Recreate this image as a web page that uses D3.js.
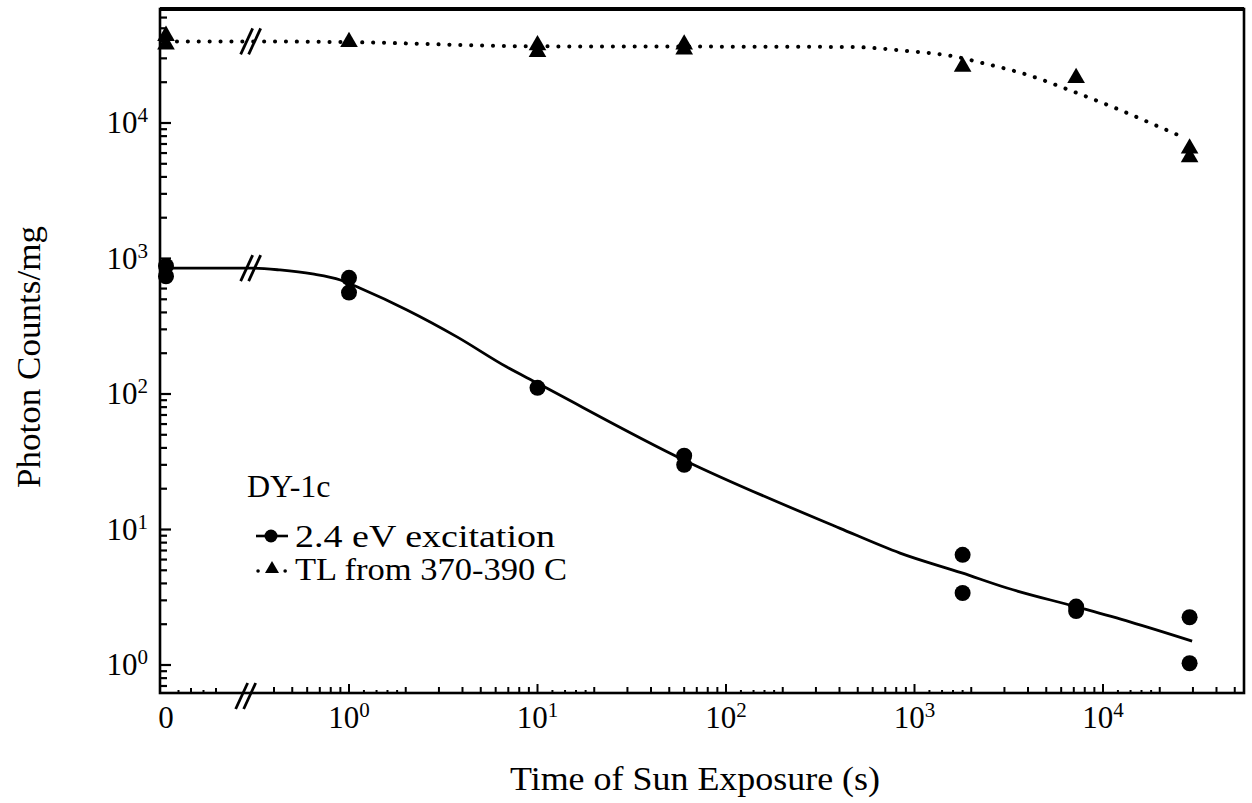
<!DOCTYPE html>
<html><head><meta charset="utf-8">
<script src="https://cdn.jsdelivr.net/npm/d3@7"></script>
<style>
body{margin:0;background:#fff;}
svg text{font-family:"Liberation Serif","Times New Roman",serif;fill:#000;}
</style></head><body>
<svg id="chart" width="1252" height="803"></svg>
<script>
// ---------------- data ----------------
// 2.4 eV excitation (measured points), time in s (0 = unexposed)
const excTime   = [0, 0, 1, 1, 10, 60, 60, 1800, 1800, 7200, 7200, 28800, 28800];
const excCounts = [880, 740, 720, 560, 111, 35, 30, 6.5, 3.4, 2.7, 2.5, 2.25, 1.03];
// TL from 370-390 C (measured points)
const tlTime   = [0, 0, 1, 10, 10, 60, 60, 1800, 7200, 28800, 28800];
const tlCounts = [44000, 38000, 39600, 37500, 33500, 38000, 35000, 26000, 21500, 6500, 5600];
// hand-drawn fit curves
const excCurveTime   = [0, 0.3, 0.43, 0.64, 0.9, 1.14, 2.03, 3.74, 6.88, 9.9, 60, 403, 838, 1786, 3097, 7280, 13900, 29700];
const excCurveCounts = [850, 850, 823, 769, 694, 605, 417, 264, 158, 121, 32.5, 10.2, 6.7, 4.78, 3.7, 2.68, 2.08, 1.5];
const tlCurveTime   = [0, 0.3, 1, 10, 100, 455, 912, 1580, 2300, 4000, 6850, 11300, 18900, 27200];
const tlCurveCounts = [40000, 40000, 39500, 36800, 36600, 36400, 34000, 31200, 27700, 22600, 17200, 13100, 9660, 7750];
// ticks / labels
const decades = [1, 10, 100, 1000, 10000];
const decadeExp = ["0", "1", "2", "3", "4"];
const minorMult = [2, 3, 4, 5, 6, 7, 8, 9];
const tinyMult = [1.2, 1.4, 1.6, 1.8];
const zeroSegTicks = [1, 2, 3, 4];
const breakTime = 0.29;
const xTitle = "Time of Sun Exposure (s)";
const yTitle = "Photon Counts/mg";
const sampleName = "DY-1c";
const seriesNames = ["2.4 eV excitation", "TL from 370-390 C"];

// ---------------- layout ----------------
const svg = d3.select("#chart");
const P = {left: 160, right: 1244, top: 9, bottom: 693};
const x = d3.scaleLog().domain([1, 1e4]).range([349, 1103]);
const xZero = d3.scaleLinear().domain([0, 4]).range([166, 216]);
const y = d3.scaleLog().domain([1, 1e4]).range([665, 123]);
const X = t => t === 0 ? xZero(0) : x(t);

const g = svg.append("g");

// frame
g.append("rect").attr("x", P.left).attr("y", P.top)
  .attr("width", P.right - P.left).attr("height", P.bottom - P.top)
  .attr("fill", "none").attr("stroke", "#000").attr("stroke-width", 2.6);
g.append("line").attr("x1", P.left).attr("x2", P.right).attr("y1", P.top).attr("y2", P.top)
  .attr("stroke", "#000").attr("stroke-width", 4);

// x ticks
const xt = [];
const xLo = breakTime * 1.25, xHi = x.invert(P.right - 2);
for (let e = -1; e <= 4; e++) {
  const d = Math.pow(10, e);
  if (d >= xLo && d <= xHi) xt.push({t: d, len: 9});
  minorMult.forEach(m => { const v = m * d; if (v >= xLo && v <= xHi) xt.push({t: v, len: 6}); });
  tinyMult.forEach(m => { const v = m * d; if (v >= xLo && v <= xHi) xt.push({t: v, len: 3}); });
}
g.selectAll(".xt").data(xt).join("line")
  .attr("x1", d => x(d.t)).attr("x2", d => x(d.t))
  .attr("y1", P.bottom).attr("y2", d => P.bottom - d.len)
  .attr("stroke", "#000").attr("stroke-width", 2);
g.selectAll(".xz").data(zeroSegTicks).join("line")
  .attr("x1", d => xZero(d)).attr("x2", d => xZero(d))
  .attr("y1", P.bottom).attr("y2", (d, i) => P.bottom - (i % 2 ? 5 : 3))
  .attr("stroke", "#000").attr("stroke-width", 2);

// y ticks
const yt = [];
const yLo = y.invert(P.bottom), yHi = y.invert(P.top);
for (let e = -1; e <= 4; e++) {
  const d = Math.pow(10, e);
  if (d >= yLo && d <= yHi) yt.push({v: d, len: 11});
  minorMult.forEach(m => { const v = m * d; if (v >= yLo && v <= yHi) yt.push({v: v, len: 7}); });
}
g.selectAll(".yt").data(yt).join("line")
  .attr("x1", P.left).attr("x2", d => P.left + d.len)
  .attr("y1", d => y(d.v)).attr("y2", d => y(d.v))
  .attr("stroke", "#000").attr("stroke-width", 2.2);

// tick labels
const xl = g.selectAll(".xl").data(decades).join("text")
  .attr("x", d => x(d)).attr("y", 728).attr("text-anchor", "middle")
  .style("font-size", "31px");
xl.append("tspan").text("10");
xl.append("tspan").attr("dy", -11).style("font-size", "21px").text((d, i) => decadeExp[i]);
g.append("text").attr("x", xZero(0)).attr("y", 728).attr("text-anchor", "middle")
  .style("font-size", "31px").text("0");

const yl = g.selectAll(".yl").data(decades).join("text")
  .attr("x", 148).attr("y", d => y(d) + 10).attr("text-anchor", "end")
  .style("font-size", "31px");
yl.append("tspan").text("10");
yl.append("tspan").attr("dy", -11).style("font-size", "21px").text((d, i) => decadeExp[i]);

// titles
g.append("text").attr("x", 695).attr("y", 790).attr("text-anchor", "middle")
  .style("font-size", "33px").attr("textLength", 370).attr("lengthAdjust", "spacingAndGlyphs").text(xTitle);
g.append("text").attr("transform", "translate(40,357) rotate(-90)").attr("text-anchor", "middle")
  .style("font-size", "33px").attr("textLength", 262).attr("lengthAdjust", "spacingAndGlyphs").text(yTitle);

// curves
const line = d3.line().x(d => d[0]).y(d => d[1]).curve(d3.curveMonotoneX);
g.append("path").datum(excCurveTime.map((t, i) => [X(t), y(excCurveCounts[i])]))
  .attr("d", line).attr("fill", "none").attr("stroke", "#000").attr("stroke-width", 2.8);
g.append("path").datum(tlCurveTime.map((t, i) => [X(t), y(tlCurveCounts[i])]))
  .attr("d", line).attr("fill", "none").attr("stroke", "#000").attr("stroke-width", 4)
  .attr("stroke-dasharray", "0.1 10.8").attr("stroke-linecap", "round");

// break marks
const brk = (cx, cy) => {
  [-4, 4].forEach(o => g.append("line")
    .attr("x1", cx + o - 6).attr("y1", cy + 13).attr("x2", cx + o + 6).attr("y2", cy - 13)
    .attr("stroke", "#000").attr("stroke-width", 2.8));
};
brk(x(breakTime) - 2, P.bottom + 3);
brk(x(breakTime) + 3, y(excCurveCounts[1]));
brk(x(breakTime) + 3, y(tlCurveCounts[1]));

// markers
const tri = d3.symbol(d3.symbolTriangle).size(135);
g.selectAll(".tri").data(tlTime).join("path")
  .attr("d", tri).attr("transform", (t, i) => `translate(${X(t)},${y(tlCounts[i])})`)
  .attr("fill", "#000");
g.selectAll(".dot").data(excTime).join("circle")
  .attr("cx", t => X(t)).attr("cy", (t, i) => y(excCounts[i])).attr("r", 8)
  .attr("fill", "#000");

// legend
g.append("text").attr("x", 247).attr("y", 497).style("font-size", "32px").text(sampleName);
const lg = [{cy: 536, ty: 547}, {cy: 569, ty: 580}];
g.append("line").attr("x1", 256).attr("x2", 288).attr("y1", lg[0].cy).attr("y2", lg[0].cy)
  .attr("stroke", "#000").attr("stroke-width", 2.6);
g.append("circle").attr("cx", 271).attr("cy", lg[0].cy).attr("r", 6.5).attr("fill", "#000");
g.append("line").attr("x1", 258).attr("x2", 288).attr("y1", lg[1].cy + 2).attr("y2", lg[1].cy + 2)
  .attr("stroke", "#000").attr("stroke-width", 3.5).attr("stroke-dasharray", "0.1 27")
  .attr("stroke-linecap", "round");
g.append("path").attr("d", d3.symbol(d3.symbolTriangle).size(85))
  .attr("transform", `translate(272,${lg[1].cy})`).attr("fill", "#000");
lg.forEach((r, i) => g.append("text").attr("x", 295).attr("y", r.ty).style("font-size", "32px")
  .attr("textLength", i ? 272 : 260).attr("lengthAdjust", "spacingAndGlyphs").text(seriesNames[i]));
</script>
</body></html>
